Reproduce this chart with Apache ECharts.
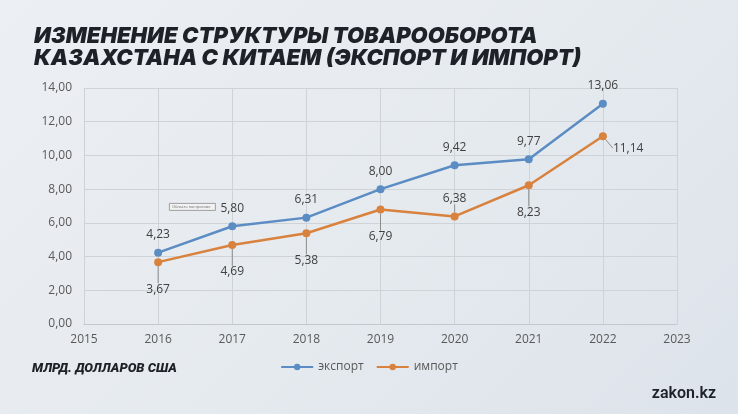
<!DOCTYPE html>
<html>
<head>
<meta charset="utf-8">
<script src="https://cdn.jsdelivr.net/npm/echarts@6/dist/echarts.min.js"></script>
<style>
  html, body { margin: 0; padding: 0; }
  #chart {
    width: 738px;
    height: 414px;
    background: linear-gradient(135deg, #eceff3 0%, #e5eaef 55%, #dde3ea 100%);
  }
</style>
</head>
<body>
<div id="chart"></div>
<script>
const years = [2016, 2017, 2018, 2019, 2020, 2021, 2022];
const exportValues = [4.23, 5.80, 6.31, 8.00, 9.42, 9.77, 13.06];
const importValues = [3.67, 4.69, 5.38, 6.79, 6.38, 8.23, 11.14];
// where each import label sits relative to its point
const importLabelPos = ['below', 'below', 'below', 'below', 'above', 'below', 'right'];

const blue = '#5b8cc4';
const orange = '#d8823e';
const fmt = (v) => v.toFixed(2).replace('.', ',');

const chart = echarts.init(document.getElementById('chart'));

chart.setOption({
  animation: false,
  title: {
    text: 'ИЗМЕНЕНИЕ СТРУКТУРЫ ТОВАРООБОРОТА\nКАЗАХСТАНА С КИТАЕМ (ЭКСПОРТ И ИМПОРТ)',
    left: 29,
    top: 20,
    textStyle: {
      fontFamily: 'Inter',
      fontSize: 22,
      fontWeight: 900,
      fontStyle: 'italic',
      color: '#1e2228',
      lineHeight: 22,
    },
  },
  legend: {
    bottom: 36,
    left: 'center',
    itemGap: 12,
    itemWidth: 32,
    itemHeight: 8,
    textStyle: { color: '#595959', fontSize: 12, fontFamily: 'Open Sans' },
    data: ['экспорт', 'импорт'],
  },
  grid: { left: 84, right: 61, top: 88, bottom: 90 },
  xAxis: {
    type: 'value',
    min: 2015,
    max: 2023,
    interval: 1,
    axisLine: { show: true, lineStyle: { color: '#c4c8cc' } },
    axisTick: { show: false },
    splitLine: { show: true, lineStyle: { color: '#cfd3d7' } },
    axisLabel: {
      color: '#595959',
      fontSize: 12,
      fontFamily: 'Open Sans',
      margin: 10,
      formatter: (v) => String(v),
    },
  },
  yAxis: {
    type: 'value',
    min: 0,
    max: 14,
    interval: 2,
    axisLine: { show: false },
    axisTick: { show: false },
    splitLine: { lineStyle: { color: '#cfd3d7' } },
    axisLabel: {
      color: '#595959',
      fontSize: 12,
      fontFamily: 'Open Sans',
      margin: 12,
      formatter: fmt,
    },
  },
  series: [
    {
      name: 'экспорт',
      type: 'line',
      data: years.map((y, i) => [y, exportValues[i]]),
      symbol: 'circle',
      symbolSize: 8,
      lineStyle: { color: blue, width: 2.5 },
      itemStyle: { color: blue },
      label: {
        show: true,
        position: 'top',
        distance: 8,
        color: '#404040',
        fontSize: 12,
        fontFamily: 'Open Sans',
        formatter: (p) => fmt(p.value[1]),
      },
    },
    {
      name: 'импорт',
      type: 'line',
      data: years.map((y, i) => ({
        value: [y, importValues[i]],
        label: {
          position: importLabelPos[i] === 'below' ? 'bottom' : importLabelPos[i] === 'above' ? 'top' : 'right',
          distance: importLabelPos[i] === 'above' ? 8 : 4,
        },
      })),
      symbol: 'circle',
      symbolSize: 8,
      lineStyle: { color: orange, width: 2.5 },
      itemStyle: { color: orange },
      label: {
        show: true,
        color: '#404040',
        fontSize: 12,
        fontFamily: 'Open Sans',
        formatter: (p) => fmt(p.value[1]),
      },
      labelLine: {
        show: true,
        length2: 0,
        lineStyle: { color: '#8c8c8c', width: 1 },
      },
      labelLayout: (params) => {
        const pos = importLabelPos[params.dataIndex];
        if (pos === 'below') return { dy: 13 };
        if (pos === 'right') return { dx: 2, dy: 12 };
        return {};
      },
    },
  ],
  graphic: [
    {
      type: 'text',
      left: 32,
      top: 362,
      style: {
        text: 'МЛРД. ДОЛЛАРОВ США',
        font: 'italic 900 13px Roboto',
        fill: '#1e2228',
      },
    },
    {
      type: 'text',
      right: 22,
      top: 386,
      style: {
        text: 'zakon.kz',
        font: '600 16px Roboto',
        fill: '#1e2228',
      },
    },
    {
      type: 'rect',
      left: 169,
      top: 203,
      shape: { width: 46, height: 7 },
      style: { fill: '#f2f2f2', stroke: '#8a8a8a', lineWidth: 0.8 },
    },
    {
      type: 'text',
      left: 172,
      top: 204.5,
      style: { text: 'Область построения', font: '4px sans-serif', fill: '#777' },
    },
  ],
});
</script>
</body>
</html>
